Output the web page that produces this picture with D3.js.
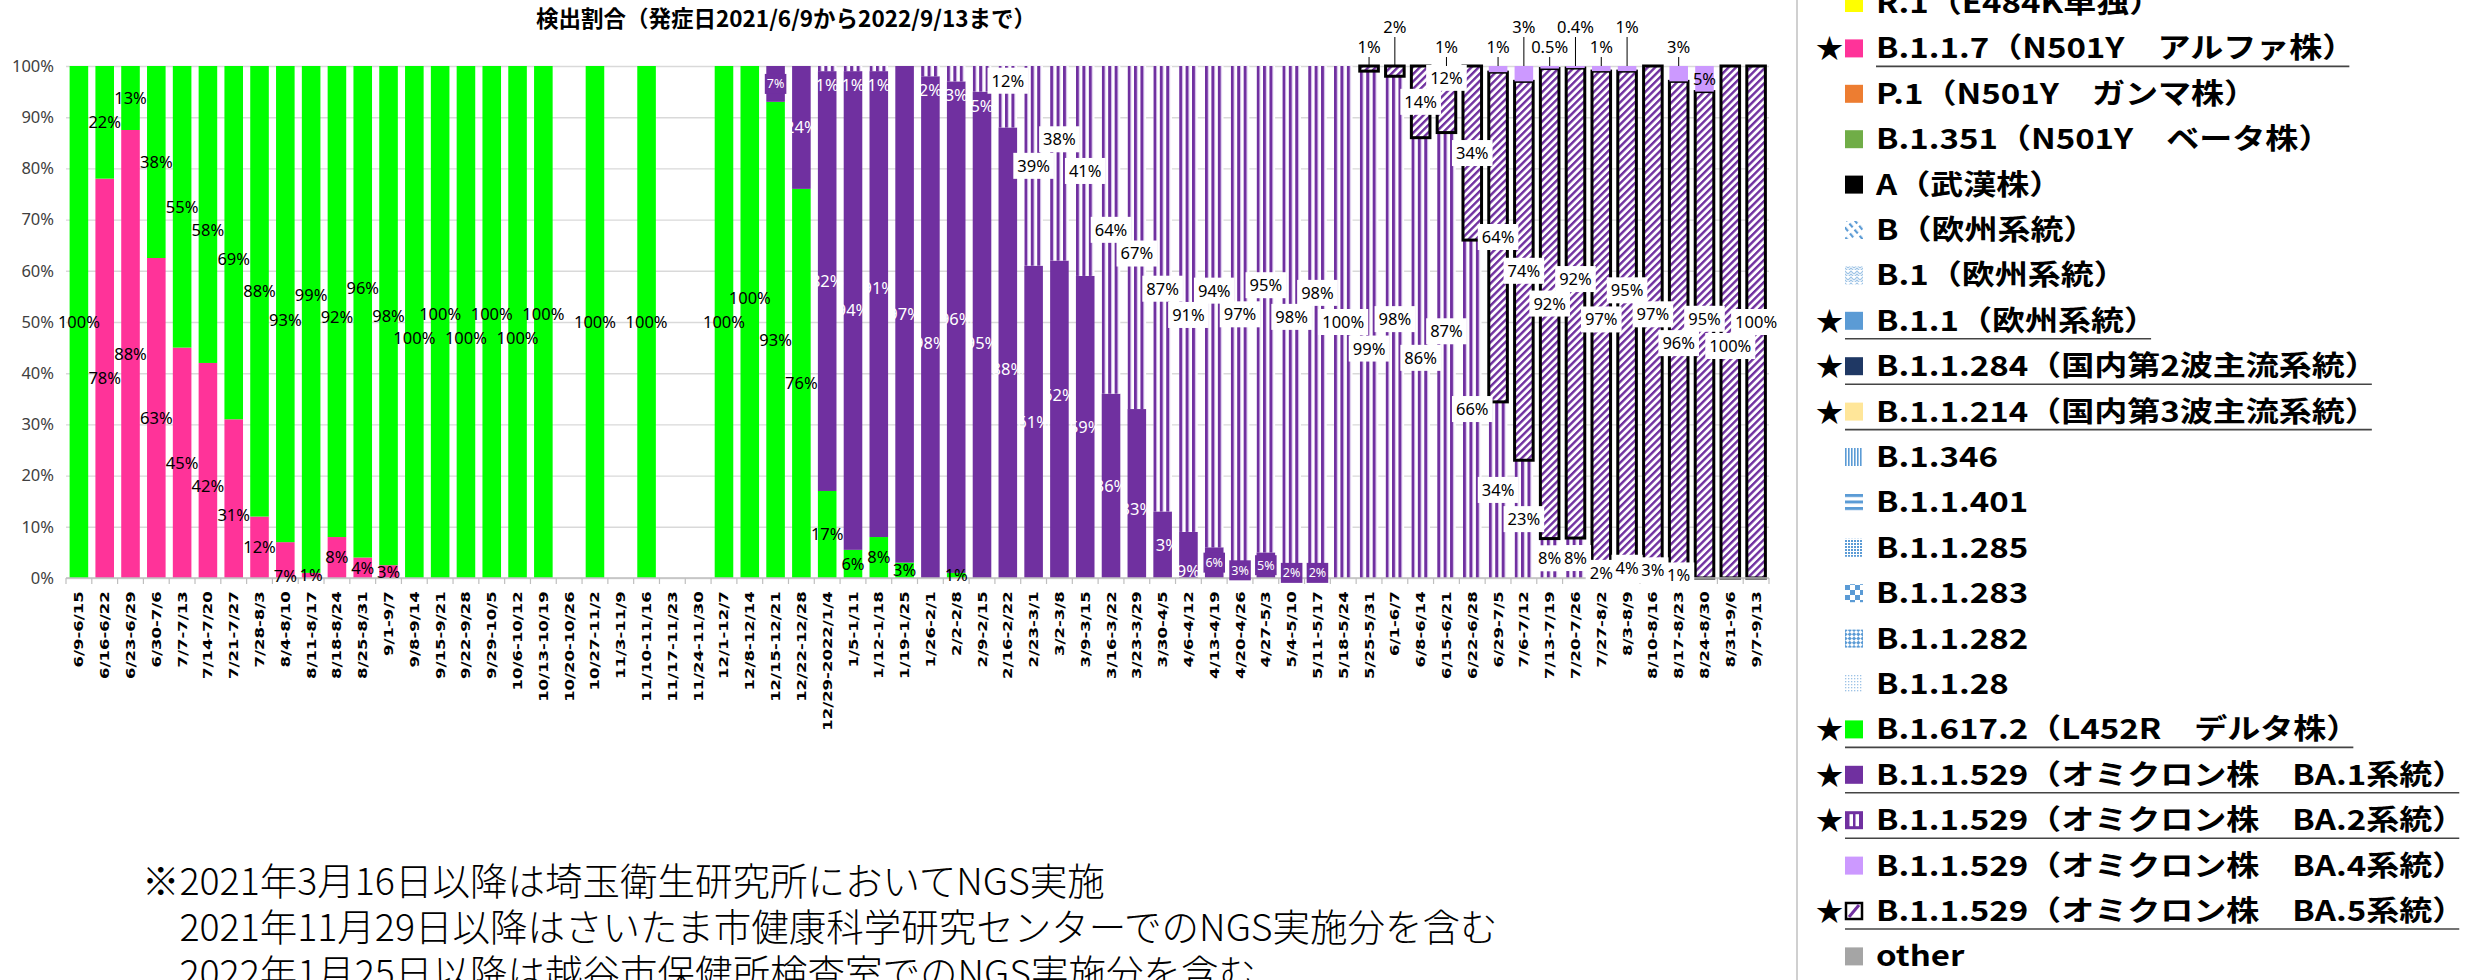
<!DOCTYPE html>
<html>
<head>
<meta charset="utf-8">
<script src="https://cdn.jsdelivr.net/npm/d3@7"></script>
<style>
  body { margin: 0; background: #fff; }
  svg { display: block; }
</style>
</head>
<body>
<svg id="chart" width="2483" height="980"></svg>
<script>
// weekly categories (onset date ranges)
const weeks = ["6/9-6/15","6/16-6/22","6/23-6/29","6/30-7/6","7/7-7/13","7/14-7/20","7/21-7/27","7/28-8/3","8/4-8/10","8/11-8/17","8/18-8/24","8/25-8/31","9/1-9/7","9/8-9/14","9/15-9/21","9/22-9/28","9/29-10/5","10/6-10/12","10/13-10/19","10/20-10/26","10/27-11/2","11/3-11/9","11/10-11/16","11/17-11/23","11/24-11/30","12/1-12/7","12/8-12/14","12/15-12/21","12/22-12/28","12/29-2022/1/4","1/5-1/11","1/12-1/18","1/19-1/25","1/26-2/1","2/2-2/8","2/9-2/15","2/16-2/22","2/23-3/1","3/2-3/8","3/9-3/15","3/16-3/22","3/23-3/29","3/30-4/5","4/6-4/12","4/13-4/19","4/20-4/26","4/27-5/3","5/4-5/10","5/11-5/17","5/18-5/24","5/25-5/31","6/1-6/7","6/8-6/14","6/15-6/21","6/22-6/28","6/29-7/5","7/6-7/12","7/13-7/19","7/20-7/26","7/27-8/2","8/3-8/9","8/10-8/16","8/17-8/23","8/24-8/30","8/31-9/6","9/7-9/13"];

// shares in % (stacked bottom -> top)
const alpha = [0,78,87.5,62.5,45,42,31,12,7,1,8,4,2.5,0,0,0,0,0,0,0,0,0,0,0,0,0,0,0,0,0,0,0,0,0,0,0,0,0,0,0,0,0,0,0,0,0,0,0,0,0,0,0,0,0,0,0,0,0,0,0,0,0,0,0,0,0];
const delta = [100,22,12.5,37.5,55,58,69,88,93,99,92,96,97.5,100,100,100,100,100,100,0,100,0,100,0,0,100,100,93,76,17,5.5,8,3,0,1,0,0,0,0,0,0,0,0,0,0,0,0,0,0,0,0,0,0,0,0,0,0,0,0,0,0,0,0,0,0,0];
const ba1 = [0,0,0,0,0,0,0,0,0,0,0,0,0,0,0,0,0,0,0,0,0,0,0,0,0,0,0,7,24,82,93.5,91,97,98,96,95,88,61,62,59,36,33,13,9,6,3,5,2,2,0,0,0,0,0,0,0,0,0,0,0,0,0,0,0,0,0];
const ba2 = [0,0,0,0,0,0,0,0,0,0,0,0,0,0,0,0,0,0,0,0,0,0,0,0,0,0,0,0,0,1,1,1,0,2,3,5,12,39,38,41,64,67,87,91,94,97,95,98,98,100,99,98,86,87,66,34.4,23,7.7,7.8,2,4,3,1,0,0,0];
const ba5 = [0,0,0,0,0,0,0,0,0,0,0,0,0,0,0,0,0,0,0,0,0,0,0,0,0,0,0,0,0,0,0,0,0,0,0,0,0,0,0,0,0,0,0,0,0,0,0,0,0,0,1,2,14,12,34,64.4,74,91.8,91.8,97,95,97,96,95,100,100];
const ba4 = [0,0,0,0,0,0,0,0,0,0,0,0,0,0,0,0,0,0,0,0,0,0,0,0,0,0,0,0,0,0,0,0,0,0,0,0,0,0,0,0,0,0,0,0,0,0,0,0,0,0,0,0,0,1,0,1.2,3,0.5,0.4,1,1,0,3,5,0,0];

const yTicks = [0,10,20,30,40,50,60,70,80,90,100];

const title = "検出割合（発症日2021/6/9から2022/9/13まで）";

const legendNames = ["R.1（E484K単独）","B.1.1.7（N501Y　アルファ株）","P.1（N501Y　ガンマ株）","B.1.351（N501Y　ベータ株）","A（武漢株）","B（欧州系統）","B.1（欧州系統）","B.1.1（欧州系統）","B.1.1.284（国内第2波主流系統）","B.1.1.214（国内第3波主流系統）","B.1.346","B.1.1.401","B.1.1.285","B.1.1.283","B.1.1.282","B.1.1.28","B.1.617.2（L452R　デルタ株）","B.1.1.529（オミクロン株　BA.1系統）","B.1.1.529（オミクロン株　BA.2系統）","B.1.1.529（オミクロン株　BA.4系統）","B.1.1.529（オミクロン株　BA.5系統）","other"];
const legendStar = [false,true,false,false,false,false,false,true,true,true,false,false,false,false,false,false,true,true,true,false,true,false];
const legendSwatch = ["#ffff00","#ff3399","#ed7d31","#70ad47","#000000","url(#pB)","url(#pB1)","#5b9bd5","#1f3864","#ffe699","url(#pB1346)","url(#pB11401)","url(#pB11285)","url(#pB11283)","url(#pB11282)","url(#pB1128)","#00ff00","#7030a0","ba2","#cc99ff","ba5","#a5a5a5"];

const notes = ["※2021年3月16日以降は埼玉衛生研究所においてNGS実施",
  "　2021年11月29日以降はさいたま市健康科学研究センターでのNGS実施分を含む",
  "　2022年1月25日以降は越谷市保健所検査室でのNGS実施分を含む"];

const PURPLE = "#7030a0";
const keys = ["alpha","delta","ba1","ba2","ba5","ba4"];
const fills = {alpha: "#ff3399", delta: "#00ff00", ba1: PURPLE, ba2: "url(#pBA2)", ba5: "url(#pBA5)", ba4: "#cc99ff"};

const rows = weeks.map((w, i) => ({week: w, alpha: alpha[i], delta: delta[i], ba1: ba1[i], ba2: ba2[i], ba5: ba5[i], ba4: ba4[i]}));
const layers = d3.stack().keys(keys)(rows);

const svg = d3.select("#chart");
const plot = {left: 66, right: 1769, top: 66, bottom: 578};

var x = d3.scaleBand().domain(weeks).range([plot.left, plot.right]).paddingInner(0.28).paddingOuter(0.14);
var y = d3.scaleLinear().domain([0, 100]).range([plot.bottom, plot.top]);
const bw = x.bandwidth();

// patterns
const defs = svg.append("defs");
const sw = x.step() / 4;
const p2 = defs.append("pattern").attr("id", "pBA2").attr("patternUnits", "userSpaceOnUse")
  .attr("x", x(weeks[0])).attr("y", 0).attr("width", sw).attr("height", 10);
p2.append("rect").attr("width", sw).attr("height", 10).attr("fill", "#fff");
p2.append("rect").attr("width", 2.9).attr("height", 10).attr("fill", PURPLE);
p2.append("rect").attr("x", 2.9).attr("width", 0.9).attr("height", 10).attr("fill", "#c9aee2");

const p5 = defs.append("pattern").attr("id", "pBA5").attr("patternUnits", "userSpaceOnUse")
  .attr("width", 5.2).attr("height", 5.2).attr("patternTransform", "rotate(45)");
p5.append("rect").attr("width", 5.2).attr("height", 5.2).attr("fill", "#fff");
p5.append("rect").attr("width", 2.4).attr("height", 5.2).attr("fill", PURPLE);

function pat(id, w, h, tr) {
  const p = defs.append("pattern").attr("id", id).attr("patternUnits", "userSpaceOnUse")
    .attr("width", w).attr("height", h);
  if (tr) p.attr("patternTransform", tr);
  p.append("rect").attr("width", w).attr("height", h).attr("fill", "#fff");
  return p;
}
var pb = pat("pB", 6, 8, "rotate(-40)");
pb.append("rect").attr("width", 2.2).attr("height", 5).attr("fill", "#5b9bd5");
var pb1 = pat("pB1", 6, 6);
pb1.append("path").attr("d", "M0,4 L3,1 L6,4 M0,7 L3,4 L6,7").attr("fill", "none").attr("stroke", "#9dc3e6").attr("stroke-width", 1.2);
var pb346 = pat("pB1346", 3, 3);
pb346.append("rect").attr("width", 1.6).attr("height", 3).attr("fill", "#5b9bd5");
var pb401 = pat("pB11401", 6, 6.5);
pb401.append("rect").attr("width", 6).attr("height", 3).attr("fill", "#5b9bd5");
var pb285 = pat("pB11285", 3, 3);
pb285.append("rect").attr("width", 2).attr("height", 2).attr("fill", "#5b9bd5");
var pb283 = pat("pB11283", 10, 10);
pb283.append("rect").attr("width", 5).attr("height", 5).attr("fill", "#5b9bd5");
pb283.append("rect").attr("x", 5).attr("y", 5).attr("width", 5).attr("height", 5).attr("fill", "#5b9bd5");
var pb282 = pat("pB11282", 6, 6, "rotate(45)");
pb282.append("rect").attr("width", 3).attr("height", 3).attr("fill", "#5b9bd5");
pb282.append("rect").attr("x", 3).attr("y", 3).attr("width", 3).attr("height", 3).attr("fill", "#5b9bd5");
var pb28 = pat("pB1128", 3, 3);
pb28.append("rect").attr("width", 1.3).attr("height", 1.3).attr("fill", "#9dc3e6");

// gridlines
svg.append("g")
  .attr("transform", "translate(" + plot.left + ",0)")
  .call(d3.axisLeft(y).tickValues(yTicks).tickSize(-(plot.right - plot.left)).tickFormat(""))
  .call(g => g.select(".domain").remove())
  .call(g => g.selectAll("line").attr("stroke", "#d9d9d9").attr("stroke-width", 1.4));

// y labels
svg.append("g")
  .attr("transform", "translate(" + (plot.left - 12) + ",0)")
  .call(d3.axisLeft(y).tickValues(yTicks).tickSize(0).tickPadding(0).tickFormat(d => d + "%"))
  .call(g => g.select(".domain").remove())
  .call(g => g.selectAll("text").attr("font-family", "'Noto Sans', sans-serif").attr("font-size", 16.5).attr("fill", "#404040"));

// bars
const barG = svg.append("g");
layers.forEach(layer => {
  barG.append("g").selectAll("rect")
    .data(layer.filter(d => d[1] - d[0] > 0))
    .enter().append("rect")
    .attr("x", d => x(d.data.week))
    .attr("y", d => y(d[1]))
    .attr("width", bw)
    .attr("height", d => y(d[0]) - y(d[1]))
    .attr("fill", fills[layer.key])
    .attr("stroke", layer.key === "ba5" ? "#000" : "none")
    .attr("stroke-width", layer.key === "ba5" ? 3 : 0);
});

// x axis
svg.append("line").attr("x1", plot.left).attr("x2", plot.right).attr("y1", plot.bottom).attr("y2", plot.bottom)
  .attr("stroke", "#bfbfbf").attr("stroke-width", 1.4);
svg.append("g").selectAll("line").data(weeks.concat([null])).enter().append("line")
  .attr("x1", (d, i) => plot.left + i * x.step()).attr("x2", (d, i) => plot.left + i * x.step())
  .attr("y1", plot.bottom).attr("y2", plot.bottom + 6).attr("stroke", "#bfbfbf").attr("stroke-width", 1.2);

svg.append("g")
  .attr("transform", "translate(0," + plot.bottom + ")")
  .call(d3.axisBottom(x).tickSize(0).tickPadding(0))
  .call(g => g.select(".domain").remove())
  .call(g => g.selectAll("text")
    .attr("transform", "rotate(-90) scale(1.32,1)")
    .attr("x", -10).attr("y", 0).attr("dy", "0.36em")
    .style("text-anchor", "end")
    .attr("font-family", "'DejaVu Sans', sans-serif").attr("font-weight", "bold")
    .attr("font-size", 12.5).attr("fill", "#000"));

// data labels
const fmt = v => v < 1 ? v.toFixed(1) + "%" : Math.round(v) + "%";
const boxG = svg.append("g");
const lineG = svg.append("g");
const textG = svg.append("g");
const placed = [];
const aboveLevels = [[], []];
const levelY = [47, 27];

function hit(a) {
  return placed.some(p => Math.abs(p.cx - a.cx) < (p.w + a.w) / 2 && Math.abs(p.cy - a.cy) < (p.h + a.h) / 2);
}

rows.forEach((r, i) => {
  keys.forEach((key, k) => {
    const d = layers[k][i];
    const v = r[key];
    if (!(v > 0)) return;
    const y0 = y(d[0]), y1 = y(d[1]);
    const cx = x(r.week) + bw / 2;
    let mode = "center";
    if ((key === "ba4" || key === "ba5") && d[1] > 99 && (y0 - y1) < 18) mode = "above";
    if (key === "ba2" && v < 8 && r.ba1 > 50) mode = "below";

    const small = key === "ba1" && v < 8;
    const t = textG.append("text").text(fmt(v))
      .attr("font-family", "'Noto Sans', sans-serif")
      .attr("font-size", small ? 12.5 : 16.5)
      .attr("text-anchor", "middle").attr("dy", "0.36em")
      .attr("x", cx)
      .attr("fill", (key === "ba1" || mode === "below") ? "#fff" : "#000");
    const tw = t.node().getComputedTextLength();
    const w = tw + 2;
    const h = small ? 16 : 22;

    if (mode === "above") {
      let lv = 0;
      const last = aboveLevels[0][aboveLevels[0].length - 1];
      if (last && cx - tw / 2 < last.right + 3) lv = 1;
      aboveLevels[lv].push({right: cx + tw / 2});
      const cy = levelY[lv];
      t.attr("y", cy);
      if (y1 - (cy + 10) > 4) {
        lineG.append("line").attr("x1", cx).attr("x2", cx).attr("y1", cy + 10).attr("y2", y1)
          .attr("stroke", "#000").attr("stroke-width", 1);
      }
      return;
    }

    let cy = mode === "below" ? y0 + 14 : (y0 + y1) / 2;
    const offs = [0];
    for (let s = 8; s <= 80; s += 8) offs.push(-s, s);
    let pos = cy;
    for (const o of offs) {
      const c = {cx: cx, cy: cy + o, w: w, h: h};
      if (c.cy < plot.top + 8 || c.cy > plot.bottom) continue;
      if (!hit(c)) { pos = c.cy; break; }
    }
    placed.push({cx: cx, cy: pos, w: w, h: h});
    t.attr("y", pos);

    if (key === "ba2" && mode === "center" || key === "ba5") {
      boxG.append("rect").attr("x", cx - (tw + 8) / 2).attr("y", pos - 13).attr("width", tw + 8).attr("height", 26).attr("fill", "#fff");
    }
    if (small) {
      const bwid = Math.max(bw, tw + 4);
      boxG.append("rect").attr("x", cx - bwid / 2).attr("y", pos - 10).attr("width", bwid).attr("height", 20).attr("fill", PURPLE);
    }
  });
});

// title
svg.append("text").attr("x", 786).attr("y", 27).attr("text-anchor", "middle")
  .attr("font-family", "'Noto Sans CJK JP', sans-serif").attr("font-weight", "bold")
  .attr("font-size", 22.5).text(title);

// legend
svg.append("line").attr("x1", 1797).attr("x2", 1797).attr("y1", 0).attr("y2", 980)
  .attr("stroke", "#d0d0d0").attr("stroke-width", 2);

const legG = svg.append("g");
legendNames.forEach((name, i) => {
  const cy = 3 + i * 45.4;
  const g = legG.append("g");
  const s = legendSwatch[i];
  if (s === "ba2") {
    g.append("rect").attr("x", 1845).attr("y", cy - 9).attr("width", 18).attr("height", 18).attr("fill", PURPLE);
    g.append("rect").attr("x", 1849.5).attr("y", cy - 6).attr("width", 3.5).attr("height", 12).attr("fill", "#fff");
    g.append("rect").attr("x", 1855.5).attr("y", cy - 6).attr("width", 3.5).attr("height", 12).attr("fill", "#fff");
  } else if (s === "ba5") {
    g.append("rect").attr("x", 1846).attr("y", cy - 8).attr("width", 16).attr("height", 16)
      .attr("fill", "#fff").attr("stroke", "#000").attr("stroke-width", 2.5);
    g.append("line").attr("x1", 1849).attr("y1", cy + 6).attr("x2", 1859).attr("y2", cy - 6)
      .attr("stroke", PURPLE).attr("stroke-width", 3);
  } else {
    g.append("rect").attr("x", 1845).attr("y", cy - 9).attr("width", 18).attr("height", 18).attr("fill", s);
  }
  if (legendStar[i]) {
    g.append("text").attr("x", 1816).attr("y", cy + 10).attr("font-size", 27)
      .attr("font-family", "'Noto Sans CJK JP', sans-serif").text("★");
  }
  const t = g.append("text")
    .attr("transform", "translate(1876," + (cy + 10) + ") scale(1.18,1)")
    .attr("font-family", "'Noto Sans CJK JP', sans-serif").attr("font-weight", "bold")
    .attr("font-size", 28).attr("fill", "#000").text(name);
  if (legendStar[i]) {
    const tw = t.node().getComputedTextLength() * 1.18;
    g.append("line").attr("x1", i === 1 ? 1876 : 1845).attr("x2", 1876 + tw - 6)
      .attr("y1", cy + 18).attr("y2", cy + 18).attr("stroke", "#444").attr("stroke-width", 1.6);
  }
});

// footnote
svg.append("g").selectAll("text").data(notes).enter().append("text")
  .attr("x", 142).attr("y", (d, i) => 895 + i * 46)
  .attr("font-family", "'Noto Sans CJK JP', sans-serif").attr("font-weight", 300)
  .attr("font-size", 37.5).attr("fill", "#000").text(d => d);
</script>
</body>
</html>
